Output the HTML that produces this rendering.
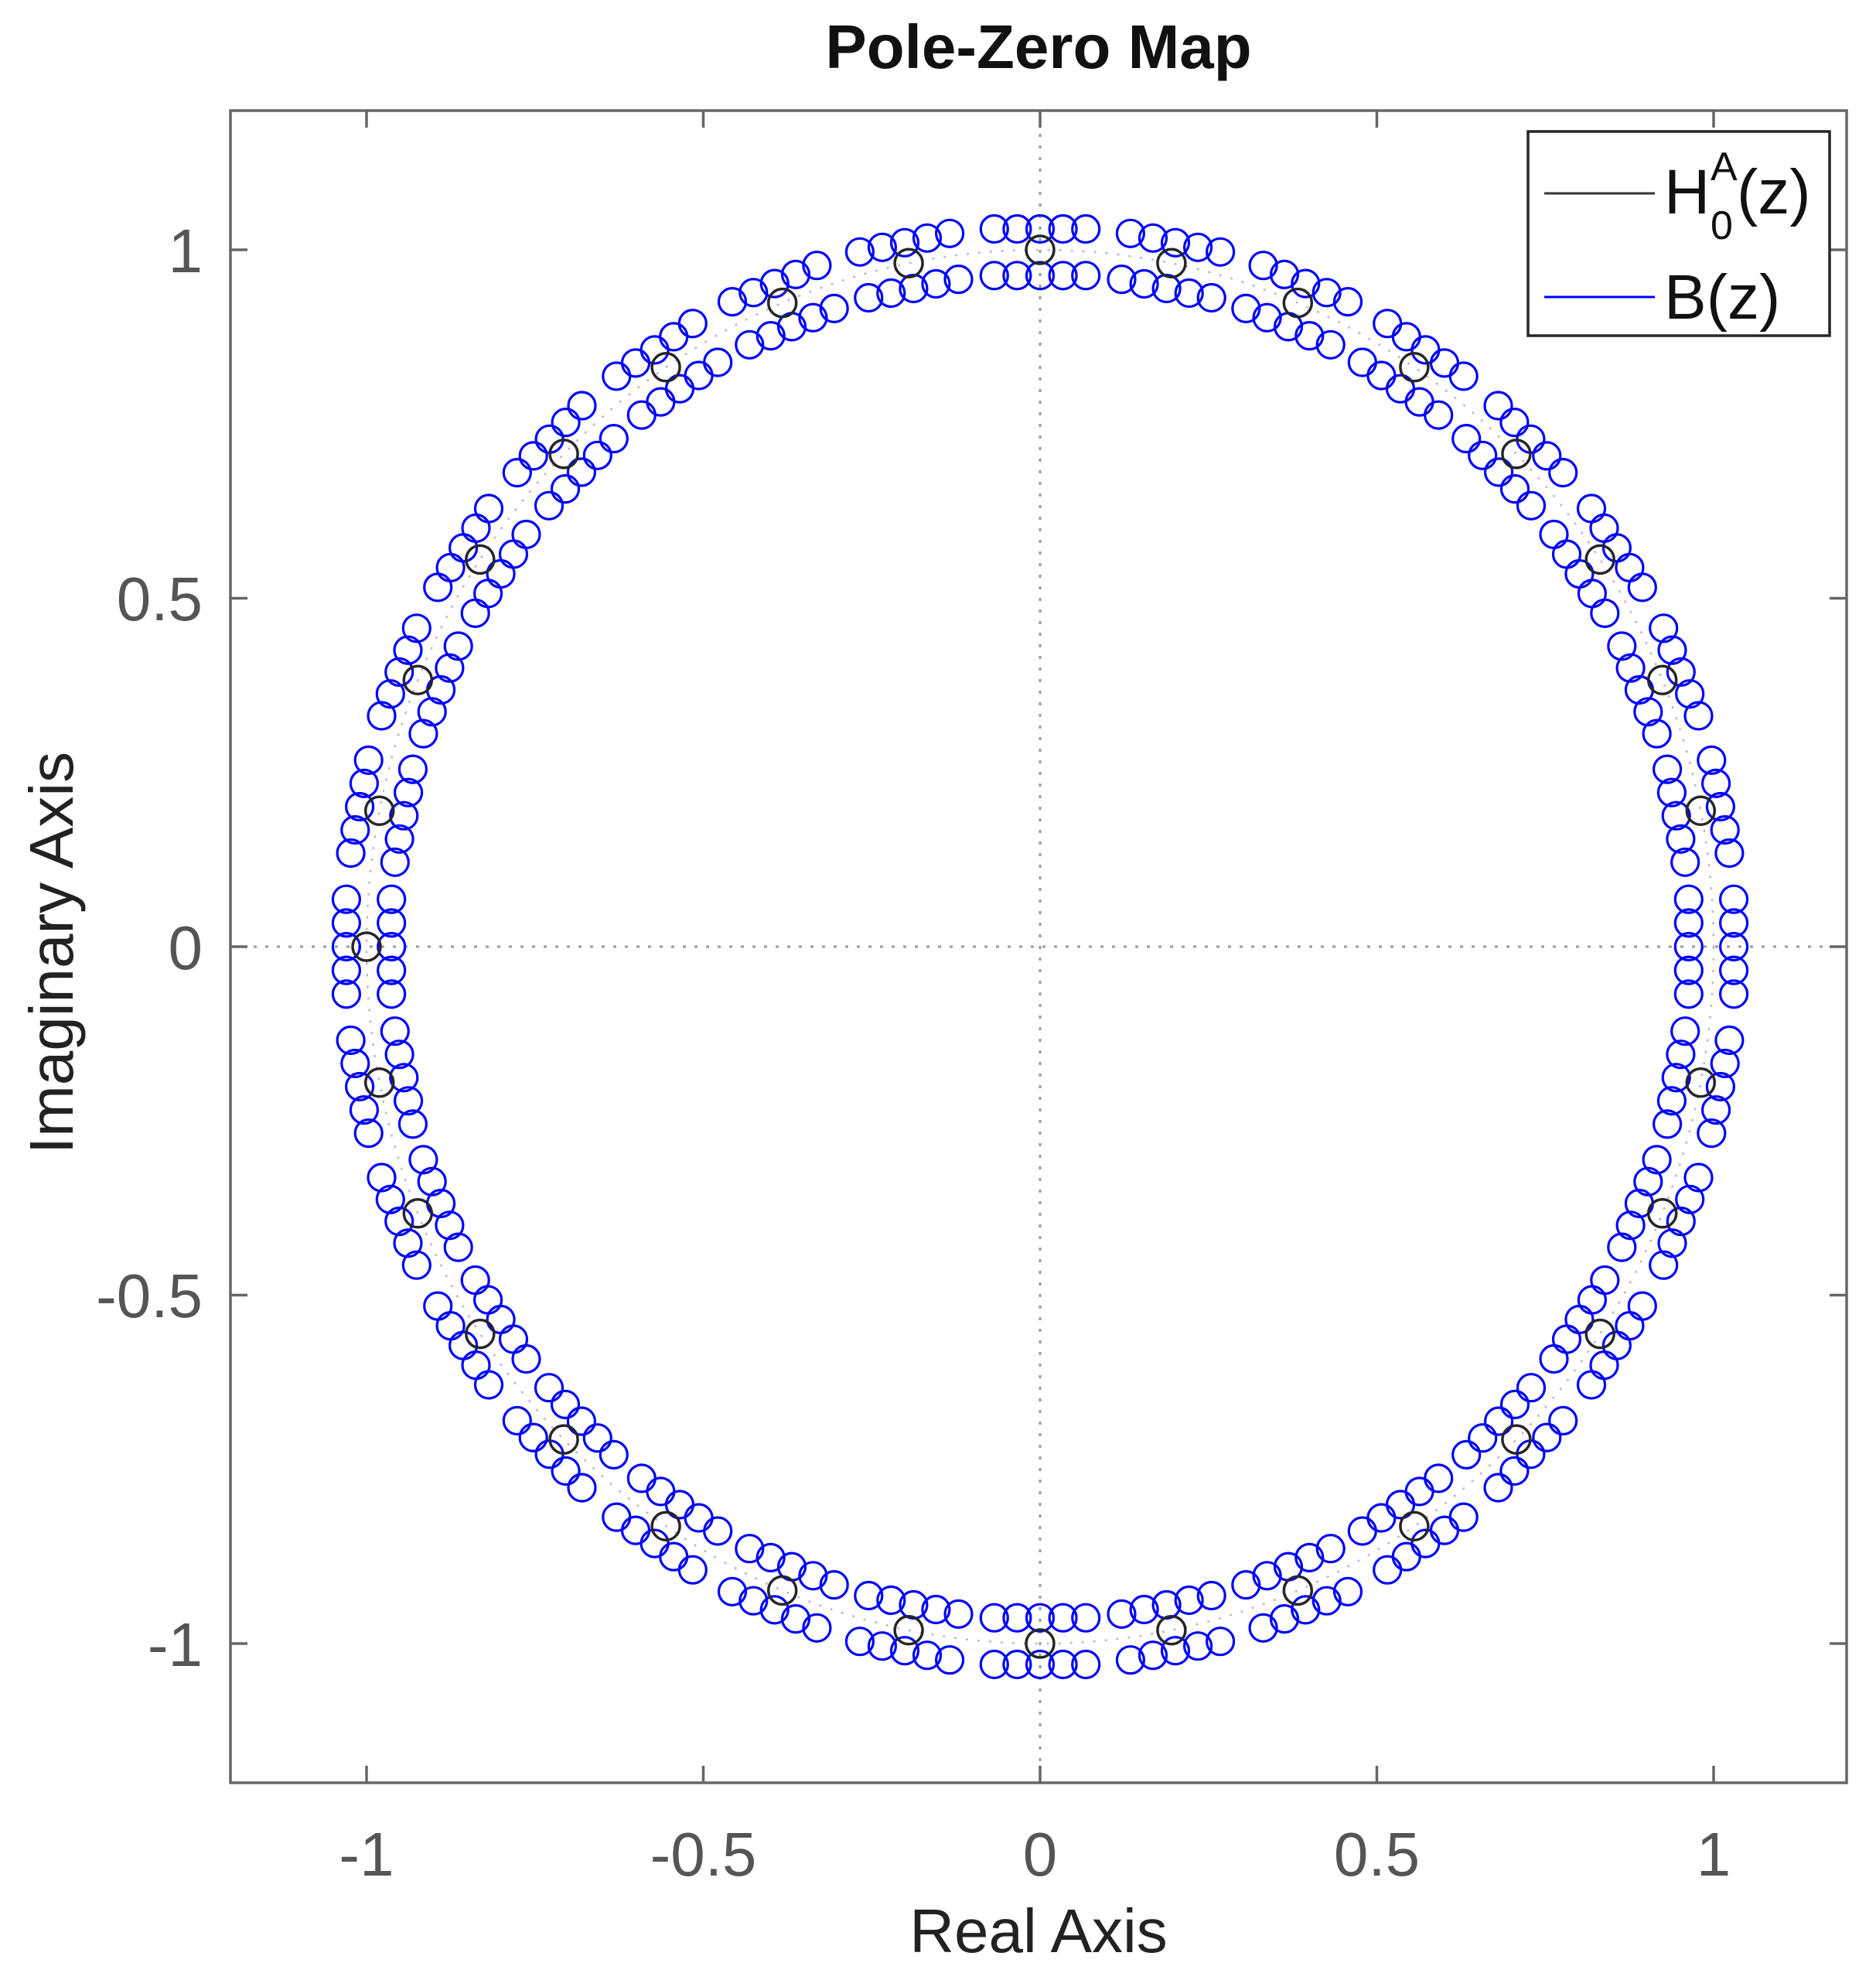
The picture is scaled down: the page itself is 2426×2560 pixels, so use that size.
<!DOCTYPE html>
<html><head><meta charset="utf-8"><style>
html,body{margin:0;padding:0;background:#fff;}
svg{display:block;}
text{font-family:"Liberation Sans",Arial,sans-serif;}
</style></head><body>
<svg id="s" width="2426" height="2560" viewBox="0 0 2426 2560" xmlns="http://www.w3.org/2000/svg">
<rect width="2426" height="2560" fill="#fff"/>
<g id="grid" stroke="#999" stroke-width="3" stroke-dasharray="4 11" fill="none">
<line x1="1345" y1="143" x2="1345" y2="2305"/>
<line x1="298" y1="1224" x2="2388" y2="1224"/>
<ellipse cx="1345" cy="1224" rx="871" ry="901" stroke="#bbb" stroke-width="2.5" stroke-dasharray="3 12"/>
</g>
<g id="pts"></g>
<g stroke="#666" stroke-width="3.5" fill="none">
<rect x="298" y="143" width="2090" height="2162"/>
<path d="M474,143v22M909.5,143v22M1345,143v22M1780.5,143v22M2216,143v22
M474,2305v-22M909.5,2305v-22M1345,2305v-22M1780.5,2305v-22M2216,2305v-22
M298,323h22M298,773.5h22M298,1224h22M298,1674.5h22M298,2125h22
M2388,323h-22M2388,773.5h-22M2388,1224h-22M2388,1674.5h-22M2388,2125h-22"/>
</g>
<g fill="#555" font-size="80" text-anchor="middle">
<text x="474" y="2425">-1</text>
<text x="909.5" y="2425">-0.5</text>
<text x="1345" y="2425">0</text>
<text x="1780.5" y="2425">0.5</text>
<text x="2216" y="2425">1</text>
</g>
<g fill="#555" font-size="80" text-anchor="end">
<text x="262" y="352">1</text>
<text x="262" y="802">0.5</text>
<text x="262" y="1253">0</text>
<text x="262" y="1703">-0.5</text>
<text x="262" y="2154">-1</text>
</g>
<text x="1343" y="88" font-size="80" font-weight="bold" text-anchor="middle" fill="#111">Pole-Zero Map</text>
<text x="1343" y="2524" font-size="80" text-anchor="middle" fill="#222">Real Axis</text>
<text transform="translate(94,1232) rotate(-90)" font-size="80" text-anchor="middle" fill="#222">Imaginary Axis</text>
<rect x="1976" y="170" width="390" height="264" fill="#fff" stroke="#262626" stroke-width="3.5"/>
<line x1="1997" y1="250" x2="2140" y2="250" stroke="#333" stroke-width="3"/>
<line x1="1997" y1="384" x2="2140" y2="384" stroke="#0000ff" stroke-width="3"/>
<text x="2152" y="276" font-size="82" fill="#111">H</text>
<text x="2212" y="233" font-size="52" fill="#111">A</text>
<text x="2212" y="309" font-size="52" fill="#111">0</text>
<text x="2246" y="276" font-size="82" fill="#111">(z)</text>
<text x="2152" y="412" font-size="82" fill="#111">B(z)</text>
</svg>
<script>
(function(){
var g=document.getElementById('pts'),cx=1345,cy=1224,sx=871,sy=901,h='';
function X(x){return cx+x*sx}function Y(y){return cy-y*sy}
for(var k=0;k<32;k++){var a=k*Math.PI/16,c=Math.cos(a),s=Math.sin(a);
 [1.03,0.963].forEach(function(r){[-0.068,-0.034,0,0.034,0.068].forEach(function(t){
  var x=r*c-t*s,y=r*s+t*c;h+='<circle cx="'+X(x).toFixed(1)+'" cy="'+Y(y).toFixed(1)+'" r="17.5" fill="none" stroke="#0000ff" stroke-width="3.2"/>';});});}
for(var k=1;k<32;k++){var a=k*Math.PI/16;h+='<circle cx="'+X(Math.cos(a)).toFixed(1)+'" cy="'+Y(Math.sin(a)).toFixed(1)+'" r="18" fill="none" stroke="#262626" stroke-width="3.5"/>';}
g.innerHTML=h;})();
</script>
</body></html>
